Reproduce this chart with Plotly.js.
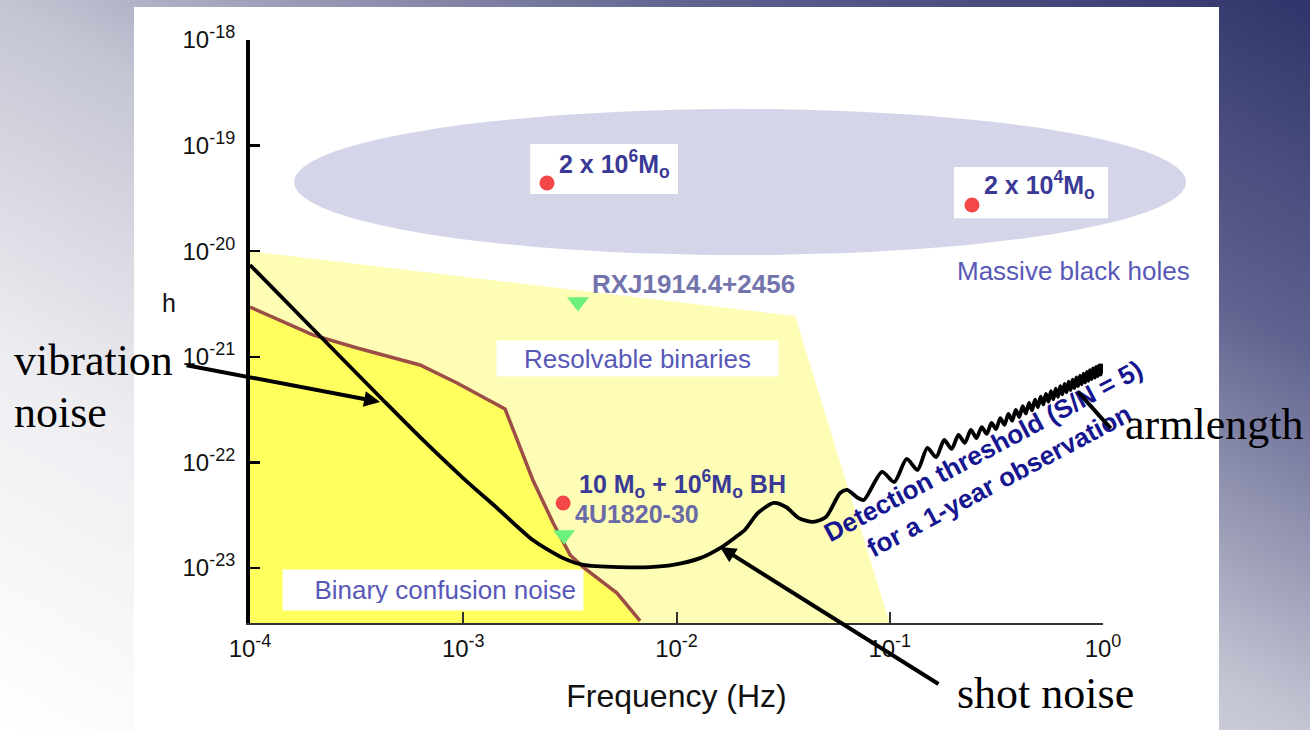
<!DOCTYPE html>
<html><head><meta charset="utf-8">
<script src="https://cdn.plot.ly/plotly-3.0.1.min.js"></script>
<style>
html,body{margin:0;padding:0;width:1310px;height:730px;overflow:hidden;}
body{background:linear-gradient(to bottom left,#31346a 0%,#60638f 24%,#c4c5d3 50%,#eeeef2 75%,#ffffff 100%);}
#chart{width:1310px;height:730px;}
</style></head><body><div id="chart"></div>
<script>
// ---- Detector sensitivity curve (detection threshold, S/N = 5, 1 yr) ----
const noiseFreq = [1.0e-4, 2.06e-4, 4.20e-4, 6.47e-4, 9.98e-4, 1.44e-3, 2.12e-3, 2.94e-3, 3.65e-3, 5.43e-3,
  7.52e-3, 9.64e-3, 1.29e-2, 1.63e-2, 1.90e-2, 2.09e-2, 2.41e-2, 2.86e-2, 3.26e-2, 3.75e-2,
  4.37e-2, 5.02e-2, 5.85e-2, 6.31e-2, 7.10e-2, 7.57e-2, 9.20e-2, 0.105, 0.12, 0.135,
  0.15, 0.165, 0.18, 0.195, 0.21, 0.225, 0.24, 0.255, 0.27, 0.285,
  0.30, 0.315, 0.33, 0.345, 0.36, 0.375, 0.39, 0.405, 0.42, 0.435,
  0.45, 0.465, 0.48, 0.495, 0.51, 0.525, 0.54, 0.555, 0.57, 0.585,
  0.60, 0.615, 0.63, 0.645, 0.66, 0.675, 0.69, 0.705, 0.72, 0.735,
  0.75, 0.765, 0.78, 0.795, 0.81, 0.825, 0.84, 0.855, 0.87, 0.885,
  0.90, 0.915, 0.93, 0.945, 0.96, 0.975, 0.99];
const noiseStrain = [7.40e-21, 1.68e-21, 3.90e-22, 1.63e-22, 7.11e-23, 3.70e-23, 1.84e-23, 1.24e-23, 1.07e-23, 1.02e-23,
  1.02e-23, 1.07e-23, 1.24e-23, 1.58e-23, 1.97e-23, 2.29e-23, 3.32e-23, 4.13e-23, 3.78e-23, 2.97e-23,
  2.73e-23, 3.04e-23, 5.13e-23, 5.48e-23, 4.60e-23, 4.41e-23, 8.11e-23, 6.52e-23, 1.08e-22, 8.47e-23,
  1.37e-22, 1.12e-22, 1.63e-22, 1.34e-22, 1.82e-22, 1.53e-22, 2.03e-22, 1.70e-22, 2.16e-22, 1.86e-22,
  2.36e-22, 2.07e-22, 2.62e-22, 2.27e-22, 2.88e-22, 2.48e-22, 3.14e-22, 2.69e-22, 3.40e-22, 2.90e-22,
  3.66e-22, 3.11e-22, 3.93e-22, 3.33e-22, 4.20e-22, 3.54e-22, 4.46e-22, 3.75e-22, 4.73e-22, 3.96e-22,
  5.00e-22, 4.18e-22, 5.27e-22, 4.40e-22, 5.54e-22, 4.61e-22, 5.81e-22, 4.83e-22, 6.09e-22, 5.05e-22,
  6.37e-22, 5.27e-22, 6.64e-22, 5.49e-22, 6.92e-22, 5.71e-22, 7.20e-22, 5.92e-22, 7.47e-22, 6.14e-22,
  7.76e-22, 6.35e-22, 8.04e-22, 6.58e-22, 8.31e-22, 6.79e-22, 8.61e-22];

// ---- Binary confusion noise boundary ----
const confusionFreq = [1.0e-4, 1.97e-4, 3.18e-4, 6.27e-4, 9.35e-4, 1.57e-3, 2.12e-3, 2.64e-3, 3.17e-3, 3.65e-3, 5.26e-3, 6.75e-3];
const confusionStrain = [2.96e-21, 1.61e-21, 1.21e-21, 8.36e-22, 5.65e-22, 3.21e-22, 6.81e-23, 2.67e-23, 1.33e-23, 1.02e-23, 5.79e-24, 3.15e-24];

// ---- Resolvable binaries region (outline) ----
const resolvableFreq = [1.0e-4, 3.6e-2, 1.0e-1, 1.0e-4];
const resolvableStrain = [1.0e-20, 2.43e-21, 3.0e-24, 3.0e-24];

// ---- Massive black holes region (ellipse extent) ----
const massiveRegionFreq = [1.61e-4, 2.45];
const massiveRegionStrain = [9.2e-21, 2.22e-19];

// ---- Sources ----
const mbhFreq = [2.47e-3, 0.243];
const mbhStrain = [4.43e-20, 2.74e-20];
const emriFreq = [2.94e-3];
const emriStrain = [4.13e-23];
const binaryFreq = [3.45e-3, 2.97e-3];
const binaryStrain = [3.30e-21, 2.05e-23];

const hFloor = 3.0e-24;

// ---- Ticks ----
const SUP = (s) => '10<sup><span style="font-size:18px">' + s + '</span></sup>';
const xTickVals = [1e-4, 1e-3, 1e-2, 1e-1, 1];
const xTickText = ['-4', '-3', '-2', '-1', '0'].map(SUP);
const yTickVals = [1e-18, 1e-19, 1e-20, 1e-21, 1e-22, 1e-23];
const yTickText = ['-18', '-19', '-20', '-21', '-22', '-23'].map(SUP);

const SANS = 'Liberation Sans, Arial, sans-serif';
const SERIF = 'Liberation Serif, Times New Roman, serif';

const confFillX = confusionFreq.concat([confusionFreq[confusionFreq.length - 1], confusionFreq[0]]);
const confFillY = confusionStrain.concat([hFloor, hFloor]);

const traces = [
  {x: resolvableFreq, y: resolvableStrain, type: 'scatter', mode: 'lines', fill: 'toself',
   fillcolor: '#fdfdb6', line: {width: 0}, hoverinfo: 'skip', xaxis: 'x', yaxis: 'y'},
  {x: confFillX, y: confFillY, type: 'scatter', mode: 'lines', fill: 'toself',
   fillcolor: '#ffff5e', line: {width: 0}, hoverinfo: 'skip', xaxis: 'x', yaxis: 'y'},
  {x: confusionFreq, y: confusionStrain, type: 'scatter', mode: 'lines',
   line: {color: '#9c4d45', width: 3.5}, xaxis: 'x', yaxis: 'y'},
  {x: noiseFreq, y: noiseStrain, type: 'scatter', mode: 'lines',
   line: {color: '#000000', width: 3.8, shape: 'spline', smoothing: 0.7}, xaxis: 'x', yaxis: 'y'},
  {x: mbhFreq, y: mbhStrain, type: 'scatter', mode: 'markers',
   marker: {color: '#f24848', size: 15}, xaxis: 'x2', yaxis: 'y'},
  {x: emriFreq, y: emriStrain, type: 'scatter', mode: 'markers',
   marker: {color: '#f24848', size: 15}, xaxis: 'x2', yaxis: 'y'},
  {x: binaryFreq, y: binaryStrain, type: 'scatter', mode: 'markers',
   marker: {color: '#6cf07c', size: 19, symbol: 'triangle-down'}, xaxis: 'x2', yaxis: 'y'}
];

const blue = '#3a3a96';
const lightBlue = '#5858b8';

const annotations = [
  // in-plot labels
  {xref: 'x2', yref: 'y', x: -2.560, y: -19.17, xanchor: 'left', yanchor: 'middle', showarrow: false,
   text: '2 x 10<sup>6</sup>M<sub>o</sub>', font: {family: SANS, size: 25, color: blue, weight: 'bold'}},
  {xref: 'x2', yref: 'y', x: -0.567, y: -19.37, xanchor: 'left', yanchor: 'middle', showarrow: false,
   text: '2 x 10<sup>4</sup>M<sub>o</sub>', font: {family: SANS, size: 25, color: blue, weight: 'bold'}},
  {xref: 'x2', yref: 'y', x: -0.1407, y: -20.188, xanchor: 'center', yanchor: 'middle', showarrow: false,
   text: 'Massive black holes', font: {family: SANS, size: 26, color: lightBlue}},
  {xref: 'x2', yref: 'y', x: -2.406, y: -20.311, xanchor: 'left', yanchor: 'middle', showarrow: false,
   text: 'RXJ1914.4+2456', font: {family: SANS, size: 26, color: '#7474ac', weight: 'bold'}},
  {xref: 'x', yref: 'y', x: -2.183, y: -21.016, xanchor: 'center', yanchor: 'middle', showarrow: false,
   text: 'Resolvable binaries', font: {family: SANS, size: 26, color: lightBlue},
   bgcolor: '#ffffff', borderpad: 4, width: 273, height: 27, align: 'center'},
  {xref: 'x2', yref: 'y', x: -2.467, y: -22.205, xanchor: 'left', yanchor: 'middle', showarrow: false,
   text: '10 M<sub>o</sub> + 10<sup>6</sup>M<sub>o</sub> BH', font: {family: SANS, size: 25, color: blue, weight: 'bold'}},
  {xref: 'x2', yref: 'y', x: -2.485, y: -22.489, xanchor: 'left', yanchor: 'middle', showarrow: false,
   text: '4U1820-30', font: {family: SANS, size: 25, color: '#6a6aa8', weight: 'bold'}},
  {xref: 'x', yref: 'y', x: -3.142, y: -23.208, xanchor: 'center', yanchor: 'middle', showarrow: false,
   text: 'Binary confusion noise', font: {family: SANS, size: 26, color: lightBlue},
   bgcolor: '#ffffff', borderpad: 7, width: 286, height: 26, align: 'right'},
  {xref: 'x', yref: 'y', x: -0.525, y: -22.03, xanchor: 'center', yanchor: 'middle', showarrow: false,
   textangle: -28, text: 'Detection threshold (S/N = 5)<br>for a 1-year observation',
   font: {family: SANS, size: 26, color: '#161690', weight: 'bold'}},
  // y label
  {xref: 'paper', yref: 'paper', x: -0.0853, y: 0.5489, xanchor: 'center', yanchor: 'middle', showarrow: false,
   text: 'h', font: {family: SANS, size: 25, color: '#111111'}},
  // overlay notes (serif)
  {xref: 'paper', yref: 'paper', x: -0.2505, y: 0.4511, xanchor: 'left', yanchor: 'middle', showarrow: false,
   text: 'vibration', font: {family: SERIF, size: 44, color: '#000000'}},
  {xref: 'paper', yref: 'paper', x: -0.2505, y: 0.3619, xanchor: 'left', yanchor: 'middle', showarrow: false,
   text: 'noise', font: {family: SERIF, size: 44, color: '#000000'}},
  {xref: 'paper', yref: 'paper', x: 0.7421, y: -0.1201, xanchor: 'left', yanchor: 'middle', showarrow: false,
   text: 'shot noise', font: {family: SERIF, size: 44, color: '#000000'}},
  {xref: 'paper', yref: 'paper', x: 0.9189, y: 0.3413, xanchor: 'left', yanchor: 'middle', showarrow: false,
   text: 'armlength', font: {family: SERIF, size: 44, color: '#000000'}},
  // arrows
  {xref: 'x', yref: 'y', x: -3.390, y: -21.428, ax: -195, ay: -37, text: '', showarrow: true,
   arrowcolor: '#000000', arrowwidth: 4, arrowhead: 2, arrowsize: 0.8, standoff: 0, startstandoff: 0},
  {xref: 'x', yref: 'y', x: -1.796, y: -22.801, ax: 220, ay: 138, text: '', showarrow: true,
   arrowcolor: '#000000', arrowwidth: 4, arrowhead: 2, arrowsize: 0.8, standoff: 0, startstandoff: 0},
  {xref: 'x', yref: 'y', x: -0.117, y: -21.333, ax: 34, ay: 38, text: '', showarrow: true,
   arrowcolor: '#000000', arrowwidth: 4, arrowhead: 0, arrowsize: 0.8, standoff: 0, startstandoff: 0}
];

const shapes = [
  // slide panel
  {type: 'rect', xref: 'paper', yref: 'paper', x0: -0.1221, x1: 1.02, y0: -0.1835, y1: 1.0566,
   fillcolor: '#ffffff', line: {width: 0}, layer: 'below'},
  // massive black hole region
  {type: 'circle', xref: 'x2', yref: 'y', x0: massiveRegionFreq[0], x1: massiveRegionFreq[1],
   y0: massiveRegionStrain[0], y1: massiveRegionStrain[1], fillcolor: '#d5d5ea', line: {width: 0}, layer: 'below'},
  // label boxes
  {type: 'rect', xref: 'x2', yref: 'y', x0: 2.06e-3, x1: 1.016e-2, y0: 3.48e-20, y1: 1.035e-19,
   fillcolor: '#ffffff', line: {width: 0}, layer: 'below'},
  {type: 'rect', xref: 'x2', yref: 'y', x0: 0.200, x1: 1.055, y0: 2.05e-20, y1: 6.27e-20,
   fillcolor: '#ffffff', line: {width: 0}, layer: 'below'}
];

const layout = {
  width: 1310, height: 730,
  margin: {l: 250, r: 110, t: 40, b: 107, pad: 0},
  paper_bgcolor: 'rgba(0,0,0,0)', plot_bgcolor: 'rgba(0,0,0,0)',
  showlegend: false,
  font: {family: SANS, color: '#111111'},
  xaxis: {type: 'log', range: [-4, 0], domain: [0, 853 / 950], anchor: 'y',
    showline: true, linecolor: '#333333', linewidth: 2, ticks: 'inside', ticklen: 11, tickwidth: 2, tickcolor: '#333333',
    tickmode: 'array', tickvals: xTickVals, ticktext: xTickText, tickfont: {family: SANS, size: 24, color: '#111111'},
    ticklabelstandoff: 3,
    showgrid: false, zeroline: false,
    title: {text: 'Frequency (Hz)', font: {family: SANS, size: 32, color: '#111111'}, standoff: 24}},
  xaxis2: {type: 'log', range: [-4, -4 + 950 / 213.25], domain: [0, 1], anchor: 'y', visible: false,
    showgrid: false, zeroline: false},
  yaxis: {type: 'log', range: [-23.521, -18], domain: [0, 1], anchor: 'x',
    showline: true, linecolor: '#000000', linewidth: 4, ticks: 'inside', ticklen: 10, tickwidth: 2.5, tickcolor: '#000000',
    tickmode: 'array', tickvals: yTickVals, ticktext: yTickText, tickfont: {family: SANS, size: 24, color: '#111111'},
    ticklabelstandoff: 6,
    showgrid: false, zeroline: false},
  annotations: annotations,
  shapes: shapes
};

Plotly.newPlot('chart', traces, layout, {displayModeBar: false, staticPlot: true});
</script></body></html>
